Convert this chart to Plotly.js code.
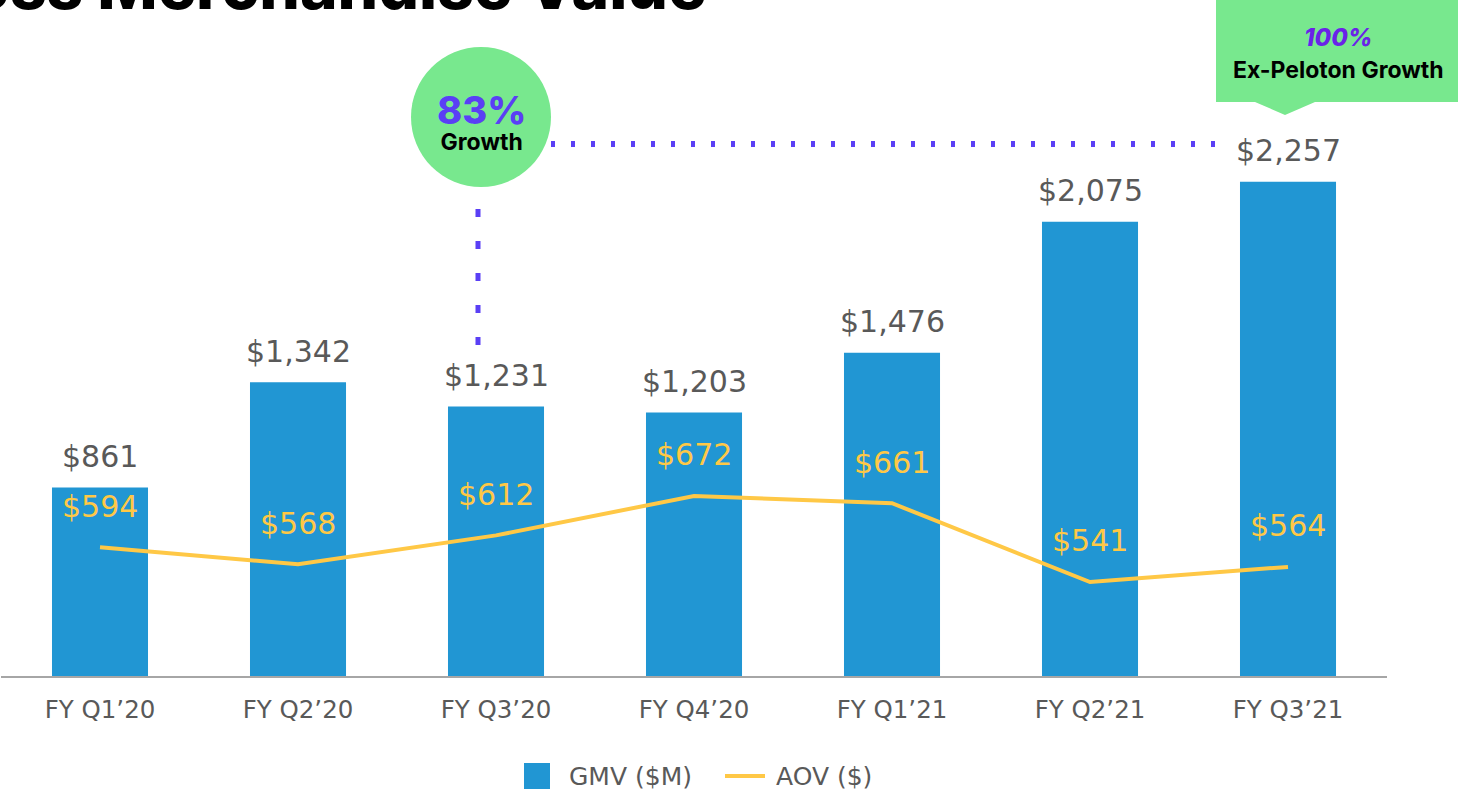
<!DOCTYPE html>
<html>
<head>
<meta charset="utf-8">
<script src="https://cdn.plot.ly/plotly-3.0.1.min.js"></script>
<style>html,body{margin:0;padding:0;background:#fff;overflow:hidden}</style>
</head>
<body>
<div id="chart" style="width:1458px;height:791px"></div>
<script>
// ---- data ----
const categories = ['FY Q1’20', 'FY Q2’20', 'FY Q3’20', 'FY Q4’20', 'FY Q1’21', 'FY Q2’21', 'FY Q3’21'];
const gmv = [861, 1342, 1231, 1203, 1476, 2075, 2257];
const aov = [594, 568, 612, 672, 661, 541, 564];
const titleText = 'Gross Merchandise Value';
const growthPct = '83%';
const growthLabel = 'Growth';
const exPelotonPct = '100%';
const exPelotonLabel = 'Ex-Peloton Growth';
const gmvName = 'GMV ($M)';
const aovName = 'AOV ($)';

// ---- styling ----
const BLUE = '#2196D3', YELLOW = '#FFC846', GRAY = '#595959', GREEN = '#78E88E', PURPLE = '#5A3FF5';
const PL = 1, PT = 40, PW = 1386, PH = 636, W = 1458, H = 791;
const px = x => (x - PL) / PW;
const py = y => (PT + PH - y) / PH;
const money = v => '$' + v.toLocaleString('en-US');

const traces = [
  {type: 'bar', x: categories, y: gmv, name: gmvName, marker: {color: BLUE}, width: 0.485,
   hoverinfo: 'none', showlegend: false},
  {type: 'scatter', mode: 'lines', x: categories, y: aov, yaxis: 'y2', name: aovName,
   line: {color: YELLOW, width: 4}, hoverinfo: 'none', showlegend: false, cliponaxis: false}
];

const ann = [];
categories.forEach((c, i) => {
  ann.push({x: c, y: gmv[i], xref: 'x', yref: 'y', text: money(gmv[i]), showarrow: false,
    yanchor: 'middle', yshift: 31, font: {family: 'DejaVu Sans', size: 30, color: GRAY}});
  ann.push({x: c, y: aov[i], xref: 'x', yref: 'y2', text: money(aov[i]), showarrow: false,
    yanchor: 'middle', yshift: 41, font: {family: 'DejaVu Sans', size: 30, color: YELLOW}});
});
const P = (x, y, text, font, xanchor) => ({xref: 'paper', yref: 'paper', x: px(x), y: py(y), text,
  showarrow: false, xanchor: xanchor || 'center', yanchor: 'middle', font});
ann.push(P(708, -14, titleText, {family: 'Inter', size: 64, weight: 800, color: '#000'}, 'right'));
ann.push(P(481, 121,
  '<span style="font-size:38px;font-weight:800;color:' + PURPLE + '">' + growthPct + '</span><br>' +
  '<span style="font-size:23px;font-weight:700">' + growthLabel + '</span>',
  {family: 'Inter', size: 20, weight: 700, color: '#000'}));
ann.push(P(1338, 38, exPelotonPct, {family: 'Inter', size: 24, weight: 800, style: 'italic', color: '#6A22E8'}));
ann.push(P(1338, 70, exPelotonLabel, {family: 'Inter', size: 23, weight: 700, color: '#000'}));
ann.push(P(567, 776, gmvName, {family: 'DejaVu Sans', size: 25, color: GRAY}, 'left'));
ann.push(P(774, 776, aovName, {family: 'DejaVu Sans', size: 25, color: GRAY}, 'left'));

const callout = [[1216, -2], [1460, -2], [1460, 102], [1315, 102], [1285, 115], [1255, 102], [1216, 102]];
const shapes = [
  {type: 'circle', xref: 'paper', yref: 'paper', x0: px(411), x1: px(551), y0: py(187), y1: py(47),
   fillcolor: GREEN, line: {width: 0}, layer: 'above'},
  {type: 'line', xref: 'paper', yref: 'paper', x0: px(478), x1: px(478), y0: py(209), y1: py(346),
   line: {color: PURPLE, width: 5, dash: '8px,24px'}},
  {type: 'line', xref: 'paper', yref: 'paper', x0: px(551), x1: px(1228), y0: py(144), y1: py(144),
   line: {color: PURPLE, width: 6, dash: '4px,16px'}},
  {type: 'path', xref: 'paper', yref: 'paper',
   path: callout.map((p, i) => (i ? 'L' : 'M') + px(p[0]) + ',' + py(p[1])).join(' ') + ' Z',
   fillcolor: GREEN, line: {width: 0}},
  {type: 'rect', xref: 'paper', yref: 'paper', x0: px(524), x1: px(550), y0: py(789), y1: py(763),
   fillcolor: BLUE, line: {width: 0}},
  {type: 'line', xref: 'paper', yref: 'paper', x0: px(725), x1: px(765), y0: py(776), y1: py(776),
   line: {color: YELLOW, width: 4}}
];

const layout = {
  width: W, height: H, margin: {l: 1, r: 71, t: 40, b: 115},
  paper_bgcolor: '#fff', plot_bgcolor: '#fff', showlegend: false,
  xaxis: {type: 'category', range: [-0.5, 6.5], showline: true, linecolor: '#A6A6A6', linewidth: 2,
    ticks: '', showgrid: false, zeroline: false, ticklabelstandoff: 11,
    tickfont: {family: 'DejaVu Sans', size: 24.5, color: GRAY}},
  yaxis: {range: [0, 2905], visible: false, showgrid: false, zeroline: false},
  yaxis2: {range: [397.8, 1366.6], overlaying: 'y', visible: false, showgrid: false, zeroline: false},
  annotations: ann, shapes: shapes, hovermode: false
};
Plotly.newPlot('chart', traces, layout, {displayModeBar: false, staticPlot: true});
</script>
</body>
</html>
